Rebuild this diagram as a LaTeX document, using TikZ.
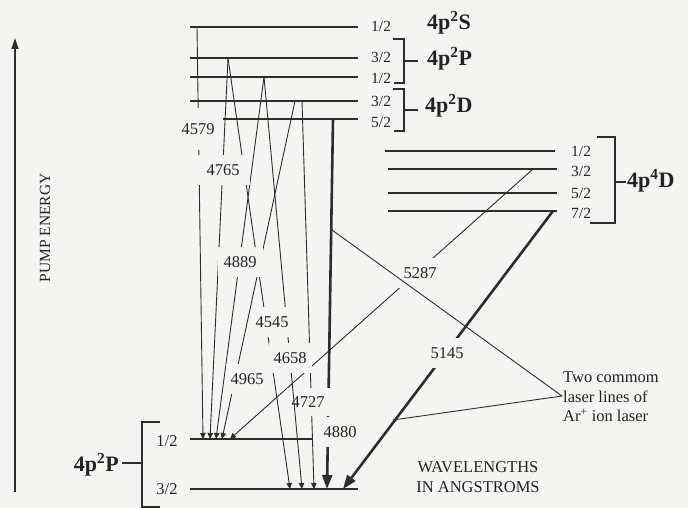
\documentclass[tikz,border=0pt]{standalone}
\usepackage{fontspec}
\setmainfont{Liberation Serif}
\usetikzlibrary{arrows.meta}
\definecolor{bg}{RGB}{244,244,242}
\definecolor{ink}{RGB}{45,45,45}
\definecolor{txt}{RGB}{35,35,35}
\begin{document}
\begin{tikzpicture}[x=1pt,y=-1pt,
  lev/.style={ink, line width=1.3pt},
  brk/.style={ink, line width=1.1pt},
  tr/.style={ink, line width=0.9pt, -{Triangle[length=6pt,width=5.5pt]}},
  trthick/.style={ink, line width=2.6pt, -{Triangle[length=14pt,width=10pt]}},
  wl/.style={fill=bg, text=txt, font=\fontsize{16.5}{16.5}\selectfont, inner xsep=5pt, inner ysep=9pt},
  jl/.style={text=txt, font=\fontsize{15.5}{15.5}\selectfont, inner sep=0pt, anchor=west},
  jc/.style={text=txt, font=\fontsize{16.5}{16.5}\selectfont, inner sep=0pt},
  term/.style={text=txt, font=\fontsize{22}{22}\selectfont\bfseries, inner sep=0pt},
  plain/.style={text=txt, font=\fontsize{16.5}{19.5}\selectfont, inner sep=0pt}]
\fill[bg] (0,0) rectangle (688,508);
\useasboundingbox (0,0) rectangle (688,508);

% pump energy arrow
\coordinate (pb) at (15,492);
\coordinate (pt) at (15,38);
\draw[ink, line width=1.2pt, -{Triangle[length=11pt,width=7pt]}] (pb) -- (pt);
\node[plain, rotate=90, font=\fontsize{15.5}{15.5}\selectfont] (pump) at (45,228) {PUMP ENERGY};

% upper levels
\coordinate (sA) at (190,27);  \coordinate (sB) at (358,27);
\coordinate (pA) at (190,58);  \coordinate (pB) at (358,58);
\coordinate (qA) at (190,77);  \coordinate (qB) at (358,77);
\coordinate (dA) at (190,101); \coordinate (dB) at (358,101);
\coordinate (eA) at (223,119); \coordinate (eB) at (358,119);
\draw[lev] (sA) -- (sB);
\draw[lev] (pA) -- (pB);
\draw[lev] (qA) -- (qB);
\draw[lev] (dA) -- (dB);
\draw[lev] (eA) -- (eB);
\node[jl] (js) at (371,26) {1/2};
\node[jl] (jp3) at (371,57) {3/2};
\node[jl] (jp1) at (371,78) {1/2};
\node[jl] (jd3) at (371,101) {3/2};
\node[jl] (jd5) at (371,122) {5/2};
% brackets upper
\coordinate (b1a) at (393,39); \coordinate (b1b) at (404,39); \coordinate (b1c) at (404,83); \coordinate (b1d) at (394,83);
\coordinate (b1m) at (404,61); \coordinate (b1t) at (418,61);
\draw[brk] (b1a) -- (b1b) -- (b1c) -- (b1d);
\draw[brk] (b1m) -- (b1t);
\coordinate (b2a) at (393,89); \coordinate (b2b) at (404,89); \coordinate (b2c) at (404,131); \coordinate (b2d) at (394,131);
\coordinate (b2m) at (404,110); \coordinate (b2t) at (418,110);
\draw[brk] (b2a) -- (b2b) -- (b2c) -- (b2d);
\draw[brk] (b2m) -- (b2t);
\node[term, anchor=west] (tS) at (427,23) {4p\textsuperscript{2}S};
\node[term, anchor=west] (tP) at (427,59) {4p\textsuperscript{2}P};
\node[term, anchor=west] (tD) at (425,106) {4p\textsuperscript{2}D};

% 4p4D levels
\coordinate (fA) at (385,151); \coordinate (fB) at (555,151);
\coordinate (gA) at (388,169); \coordinate (gB) at (557,169);
\coordinate (hA) at (388,193); \coordinate (hB) at (557,193);
\coordinate (kA) at (388,211); \coordinate (kB) at (557,211);
\draw[lev] (fA) -- (fB);
\draw[lev] (gA) -- (gB);
\draw[lev] (hA) -- (hB);
\draw[lev] (kA) -- (kB);
\node[jl] (jf) at (571,151) {1/2};
\node[jl] (jg) at (571,171) {3/2};
\node[jl] (jh) at (571,193) {5/2};
\node[jl] (jk) at (571,213) {7/2};
\coordinate (b3a) at (597,137); \coordinate (b3b) at (615,137); \coordinate (b3c) at (615,223); \coordinate (b3d) at (590,223);
\coordinate (b3m) at (615,182); \coordinate (b3t) at (626,182);
\draw[brk] (b3a) -- (b3b) -- (b3c) -- (b3d);
\draw[brk] (b3m) -- (b3t);
\node[term, anchor=west] (t4D) at (627,181) {4p\textsuperscript{4}D};

% lower levels
\coordinate (uA) at (190,439); \coordinate (uB) at (313,439);
\coordinate (vA) at (190,489); \coordinate (vB) at (358,489);
\draw[lev] (uA) -- (uB);
\draw[lev] (vA) -- (vB);
\node[jc] (ju) at (167,441) {1/2};
\node[jc] (jv) at (167,489) {3/2};
\coordinate (b4a) at (160,422); \coordinate (b4b) at (142,422); \coordinate (b4c) at (142,507); \coordinate (b4d) at (160,507);
\coordinate (b4m) at (142,463); \coordinate (b4t) at (122,463);
\draw[brk] (b4a) -- (b4b) -- (b4c) -- (b4d);
\draw[brk] (b4m) -- (b4t);
\node[term, anchor=east] (tPl) at (119,465) {4p\textsuperscript{2}P};

% transitions
\coordinate (a4579) at (197,27);  \coordinate (z4579) at (203,439);
\coordinate (a4765) at (228,58);  \coordinate (z4765) at (210,439);
\coordinate (a4545) at (228,58);  \coordinate (z4545) at (290,489);
\coordinate (a4889) at (264,77);  \coordinate (z4889) at (216,439);
\coordinate (a4658) at (264,77);  \coordinate (z4658) at (302,489);
\coordinate (a4965) at (295,101); \coordinate (z4965) at (222,439);
\coordinate (a4727) at (302,101); \coordinate (z4727) at (314,489);
\coordinate (a4880) at (333,119); \coordinate (z4880) at (327,489);
\coordinate (a5287) at (533,169); \coordinate (z5287) at (230,439);
\coordinate (a5145) at (553,211); \coordinate (z5145) at (343,489);
\draw[tr] (a4579) -- (z4579);
\draw[tr] (a4765) -- (z4765);
\draw[tr] (a4545) -- (z4545);
\draw[tr] (a4889) -- (z4889);
\draw[tr] (a4965) -- (z4965);
\draw[tr] (a4727) -- (z4727);
\draw[trthick] (a4880) -- (z4880);
\draw[tr] (a5287) -- (z5287);
\draw[trthick] (a5145) -- (z5145);

\node[wl] (l4727) at (308,402) {4727};
\draw[tr] (a4658) -- (z4658);

\node[wl, inner ysep=15pt] (l4579) at (198,129) {4579};
\node[wl, inner xsep=10pt] (l4765) at (223,170) {4765};
\node[wl, inner xsep=6pt] (l4889) at (240,262) {4889};
\node[wl] (l4545) at (272,322) {4545};
\node[wl] (l4658) at (290,358) {4658};
\node[wl] (l4965) at (247,379) {4965};
\node[wl] (l4880) at (340,432) {4880};
\node[wl] (l5287) at (420,273) {5287};
\node[wl] (l5145) at (447,353) {5145};

% callout
\coordinate (c4880) at (332,230);
\coordinate (c5145) at (393,420);
\coordinate (cj) at (562,396);
\draw[ink, line width=0.9pt] (c4880) -- (cj) -- (c5145);
\node[plain, align=left, anchor=west] (call) at (563,397) {Two commom\\laser lines of\\Ar\textsuperscript{+} ion laser};

\node[plain, align=center] (wave) at (478,477) {WAVELENGTHS\\IN ANGSTROMS};
\end{tikzpicture}
\end{document}
